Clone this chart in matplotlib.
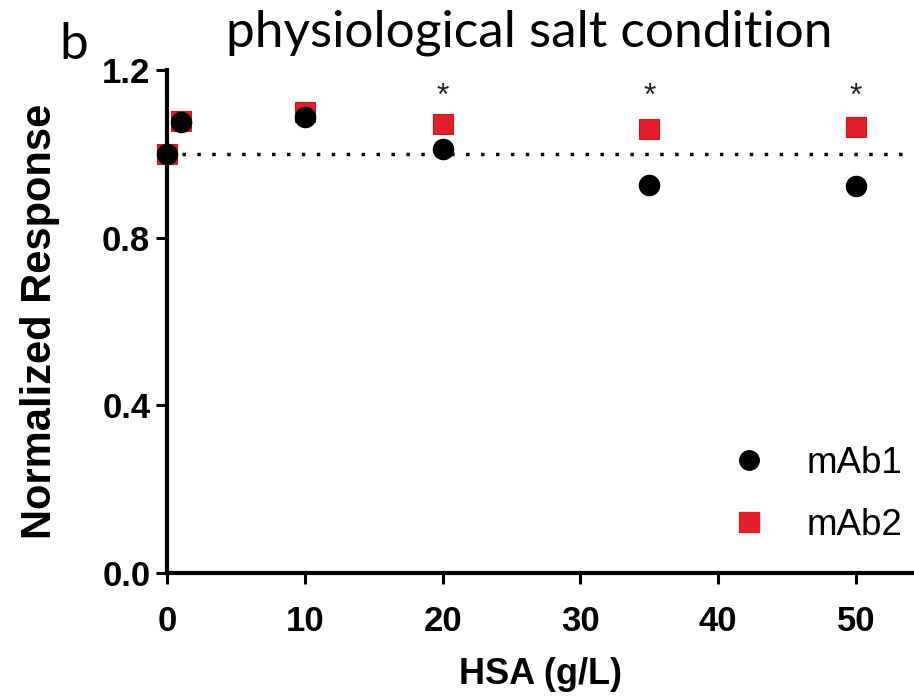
import matplotlib
matplotlib.use("Agg")
import matplotlib.pyplot as plt
from matplotlib.lines import Line2D

# Data
hsa = [0, 1, 10, 20, 35, 50]
mab1 = [1.000, 1.075, 1.087, 1.011, 0.926, 0.923]
mab2 = [1.000, 1.079, 1.100, 1.071, 1.060, 1.065]
star_x = [20, 35, 50]
star_y = [1.137, 1.137, 1.137]
yticks = [0.0, 0.4, 0.8, 1.2]
ytick_labels = ["0.0", "0.4", "0.8", "1.2"]
xticks = [0, 10, 20, 30, 40, 50]
xtick_labels = ["0", "10", "20", "30", "40", "50"]

plt.rcParams['font.family'] = ['Liberation Sans', 'DejaVu Sans']

fig = plt.figure(figsize=(9.14, 6.96), dpi=100)
ax = fig.add_axes([167/914, 1 - 573/696, 1 - 167/914, (573 - 70)/696])

red = '#E3202A'
ax.axhline(1.0, color='black', lw=2.5, linestyle=(0, (1, 3.3)), zorder=1)

ax.plot(hsa, mab2, linestyle='none', marker='s', markersize=14.5,
        color=red, markeredgecolor='#C81820', markeredgewidth=0.8, zorder=2, clip_on=False)
ax.plot(hsa, mab1, linestyle='none', marker='o', markersize=14.5,
        color='black', zorder=3, clip_on=False)

for x, y in zip(star_x, star_y):
    ax.text(x, y, '*', ha='center', va='center', fontsize=23, color='#222222')

ax.set_xlim(0, (914 - 167) / 13.78)
ax.set_ylim(0, 1.2)
ax.set_xticks(xticks)
ax.set_xticklabels(xtick_labels)
ax.set_yticks(yticks)
ax.set_yticklabels(ytick_labels)
for lab in ax.get_xticklabels() + ax.get_yticklabels():
    lab.set_fontweight('bold')
    lab.set_fontsize(25)

ax.spines['top'].set_visible(False)
ax.spines['right'].set_visible(False)
ax.spines['left'].set_linewidth(3)
ax.spines['bottom'].set_linewidth(3)
ax.tick_params(axis='both', length=8, width=2.2)
ax.tick_params(axis='x', pad=15)
ax.tick_params(axis='y', pad=4)

ax.set_xlabel('HSA (g/L)', fontsize=26, fontweight='bold', labelpad=14)
ax.set_ylabel('Normalized Response', fontsize=30, fontweight='bold')
ax.yaxis.set_label_coords((60 - 167) / 747, 0.5)

handles = [
    Line2D([], [], linestyle='none', marker='o', markersize=14, color='black'),
    Line2D([], [], linestyle='none', marker='s', markersize=14, color=red),
]
ax.legend(handles, ['mAb1', 'mAb2'], loc='lower right', bbox_to_anchor=((902 - 167) / 747, 0.06),
          frameon=False, fontsize=26.5, handlelength=1.0, handletextpad=1.05,
          labelspacing=0.72, borderpad=0, borderaxespad=0)

fig.text(529/914, 1 - 33/696, 'physiological salt condition', ha='center', va='center',
         fontsize=37, family=['Lato', 'DejaVu Sans'], color='black')
fig.text(74/914, 1 - 45/696, 'b', ha='center', va='center',
         fontsize=37, family=['Lato', 'DejaVu Sans'], color='black')

fig.savefig('out.png', dpi=100)
